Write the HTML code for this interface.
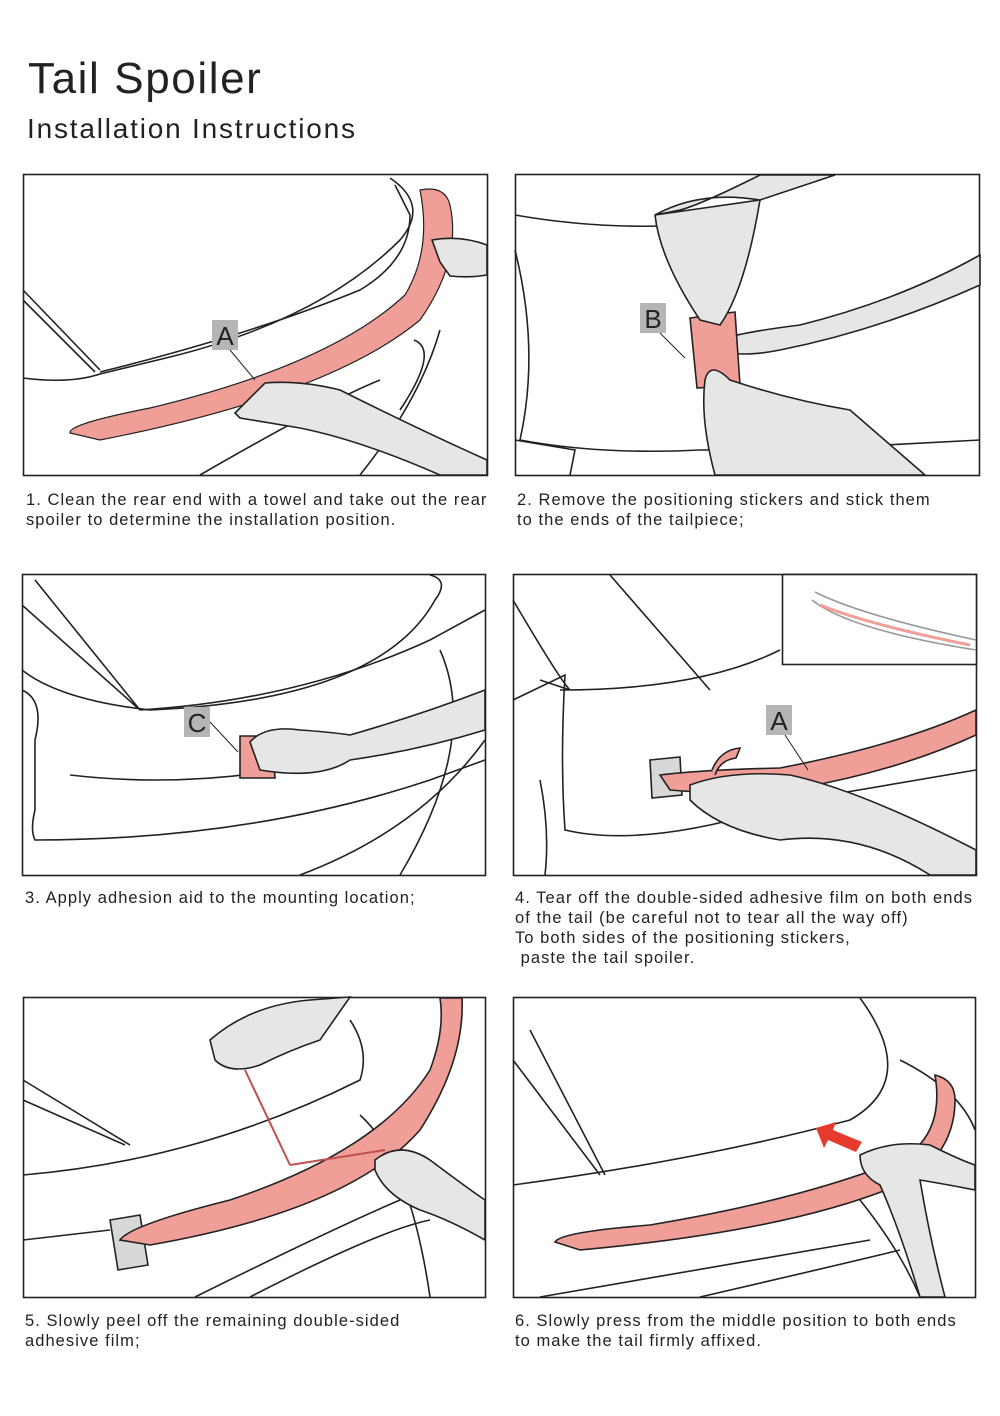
<!DOCTYPE html>
<html><head><meta charset="utf-8"><style>
body{margin:0;background:#fff;width:1000px;height:1416px;overflow:hidden;font-family:"Liberation Sans",sans-serif;}
svg{position:absolute;left:0;top:0}
.t{position:absolute;font-size:16.5px;color:#222;line-height:20px;letter-spacing:1.05px;white-space:nowrap}
</style></head><body>
<svg width="1000" height="1416" viewBox="0 0 1000 1416" fill="none" stroke="#222" stroke-width="1.6">
<!-- Panel 1 -->
<rect x="23.5" y="174.5" width="464" height="301"/>
<path d="M23 378 Q70 384 100 374 L170 357 Q320 320 400 240 Q430 205 390 178"/>
<path d="M100 372 Q250 335 360 290 Q410 260 410 215 L395 185"/>
<path d="M23 290 L100 370"/>
<path d="M23 300 L95 372"/>
<path d="M400 410 Q440 350 414 340 M360 475 Q420 400 440 330 M200 475 Q330 400 380 380"/>
<path d="M70 433 Q68 424 150 408 Q330 365 405 295 Q432 250 420 190 Q445 185 450 205 Q462 260 420 320 Q330 395 100 440 Z" fill="#ef9e98" stroke="#222" stroke-width="1.2"/>
<path d="M235 413 L265 383 Q300 380 340 390 Q420 430 487 460 L487 475 L440 475 Q360 440 300 428 L240 418 Z" fill="#e6e6e6"/>
<path d="M432 240 Q460 235 487 245 L487 275 Q470 278 450 276 L440 262 Z" fill="#e6e6e6"/>
<rect x="212" y="320" width="26" height="30" fill="#b5b5b5" stroke="none"/>
<text x="225" y="345" font-family="Liberation Sans" font-size="26" fill="#222" stroke="none" text-anchor="middle">A</text>
<path d="M230 350 L255 380" stroke-width="1"/>
<!-- Panel 2 -->
<rect x="515.5" y="174.5" width="464" height="301"/>
<path d="M515 215 Q600 230 690 225 M515 250 Q540 350 520 440 Q600 455 700 450 L760 450 M515 440 L575 450 L570 475 M790 450 L980 440"/>
<path d="M710 345 Q720 335 800 325 Q900 300 980 255 L980 285 Q880 330 780 350 Q730 360 710 345 Z" fill="#e6e6e6"/>
<path d="M690 318 L735 312 L740 385 L697 388 Z" fill="#ef9e98"/>
<path d="M655 215 Q700 190 760 200 L835 175 L760 175 Q700 205 680 210 Z M655 215 Q660 260 700 320 L720 325 Q745 290 760 200 Z" fill="#e6e6e6"/>
<path d="M705 380 Q710 360 730 380 Q790 400 850 410 L925 475 L715 475 Q700 420 705 380 Z" fill="#e6e6e6"/>
<rect x="640" y="303" width="26" height="30" fill="#b5b5b5" stroke="none"/>
<text x="653" y="328" font-family="Liberation Sans" font-size="26" fill="#222" stroke="none" text-anchor="middle">B</text>
<path d="M660 333 L685 358" stroke-width="1"/>
<!-- Panel 3 -->
<rect x="22.5" y="574.5" width="463" height="301"/>
<path d="M22 605 L140 710 M35 580 L140 710 M22 670 Q60 700 150 710 Q380 700 435 600 Q450 580 430 575"/>
<path d="M22 690 Q45 700 35 740 L35 810 Q30 830 35 840 Q250 840 430 780 L485 760"/>
<path d="M140 710 Q300 700 430 640 L485 610 M70 775 Q200 790 330 760 M440 650 Q480 740 400 875 M300 875 Q420 830 485 740"/>
<path d="M240 736 L272 736 L275 778 L240 778 Z" fill="#ef9e98"/>
<path d="M250 742 Q265 725 300 730 Q330 732 350 735 Q420 715 485 690 L485 730 Q420 750 350 760 Q320 780 260 770 Z" fill="#e6e6e6"/>
<rect x="184" y="707" width="26" height="30" fill="#b5b5b5" stroke="none"/>
<text x="197" y="732" font-family="Liberation Sans" font-size="26" fill="#222" stroke="none" text-anchor="middle">C</text>
<path d="M210 722 L238 752" stroke-width="1"/>
<!-- Panel 4 -->
<rect x="513.5" y="574.5" width="463" height="301"/>
<path d="M513 600 Q560 680 570 690 L540 680 M560 690 Q700 690 780 650 M610 575 L710 690 M513 700 L565 675 Q560 760 565 830 Q650 850 800 800 L976 770 M540 780 Q550 830 545 875"/>
<rect x="782.5" y="574.5" width="194" height="90" fill="#fff"/>
<path d="M812 600 Q850 630 976 650 M815 592 Q860 615 976 640" stroke="#999"/>
<path d="M820 605 Q870 625 970 645" stroke="#ef9e98" stroke-width="3"/>
<path d="M650 760 L680 757 L682 795 L652 798 Z" fill="#d8d8d8"/>
<path d="M660 775 Q700 770 780 768 Q900 745 976 710 L976 735 Q900 770 800 788 Q720 795 670 790 Z" fill="#ef9e98"/>
<path d="M712 770 Q720 750 740 748 L736 758 Q720 760 715 775" fill="#ef9e98"/>
<path d="M690 785 Q730 770 790 775 Q860 790 976 850 L976 875 L930 875 Q860 830 780 840 Q720 830 690 800 Z" fill="#e6e6e6"/>
<rect x="766" y="705" width="26" height="30" fill="#b5b5b5" stroke="none"/>
<text x="779" y="730" font-family="Liberation Sans" font-size="26" fill="#222" stroke="none" text-anchor="middle">A</text>
<path d="M785 735 L808 770" stroke-width="1"/>
<!-- Panel 5 -->
<rect x="23.5" y="997.5" width="462" height="300"/>
<path d="M23 1080 L130 1145 M23 1100 L125 1145 M23 1175 Q200 1160 360 1080 Q370 1050 350 1020"/>
<path d="M360 1115 Q410 1160 430 1297 M195 1297 Q330 1230 400 1200 M250 1297 Q380 1230 430 1220 M23 1240 L110 1230"/>
<path d="M110 1220 L140 1215 L148 1265 L118 1270 Z" fill="#d8d8d8"/>
<path d="M120 1240 Q130 1225 230 1200 Q380 1150 430 1070 Q445 1030 440 998 L462 998 Q465 1060 420 1130 Q350 1210 150 1245 Z" fill="#ef9e98"/>
<path d="M245 1070 L290 1165 M290 1165 L385 1150" stroke="#c0504d" stroke-width="2"/>
<path d="M210 1040 Q250 1005 310 1000 L350 997 L320 1040 Q290 1050 260 1065 Q230 1075 215 1060 Z" fill="#e6e6e6"/>
<path d="M375 1160 Q400 1140 430 1160 Q470 1190 485 1200 L485 1240 Q450 1220 420 1210 Q385 1195 375 1170 Z" fill="#e6e6e6"/>
<!-- Panel 6 -->
<rect x="513.5" y="997.5" width="462" height="300"/>
<path d="M513 1060 L600 1175 M530 1030 L605 1175 M513 1185 Q700 1160 850 1120 Q920 1080 860 998"/>
<path d="M900 1060 Q960 1090 975 1130 M540 1297 Q700 1270 870 1240 M700 1297 Q860 1260 900 1250 M860 1200 Q900 1250 920 1297"/>
<path d="M555 1242 Q560 1232 650 1225 Q800 1200 900 1160 Q945 1135 935 1075 Q955 1080 955 1100 Q955 1150 910 1180 Q800 1230 580 1250 Z" fill="#ef9e98"/>
<path d="M860 1155 Q890 1140 930 1145 Q960 1160 975 1165 L975 1190 Q950 1185 920 1180 Q930 1240 945 1297 L920 1297 Q900 1230 880 1185 Q860 1175 860 1155 Z" fill="#e6e6e6"/>
<polygon points="816,1128 836,1122 833,1130 862,1142 856,1152 828,1140 824,1148" fill="#e53b2c" stroke="none"/>
<text x="28" y="93" font-family="Liberation Sans" font-size="44" fill="#222" stroke="none" letter-spacing="1.6">Tail Spoiler</text>
<text x="27" y="138" font-family="Liberation Sans" font-size="28" fill="#222" stroke="none" letter-spacing="1.8">Installation Instructions</text>
</svg>
<div class="t" style="left:26px;top:490px">1. Clean the rear end with a towel and take out the rear<br>spoiler to determine the installation position.</div>
<div class="t" style="left:517px;top:490px">2. Remove the positioning stickers and stick them<br>to the ends of the tailpiece;</div>
<div class="t" style="left:25px;top:888px">3. Apply adhesion aid to the mounting location;</div>
<div class="t" style="left:515px;top:888px">4. Tear off the double-sided adhesive film on both ends<br>of the tail (be careful not to tear all the way off)<br>To both sides of the positioning stickers,<br>&nbsp;paste the tail spoiler.</div>
<div class="t" style="left:25px;top:1311px">5. Slowly peel off the remaining double-sided<br>adhesive film;</div>
<div class="t" style="left:515px;top:1311px">6. Slowly press from the middle position to both ends<br>to make the tail firmly affixed.</div>
</body></html>
